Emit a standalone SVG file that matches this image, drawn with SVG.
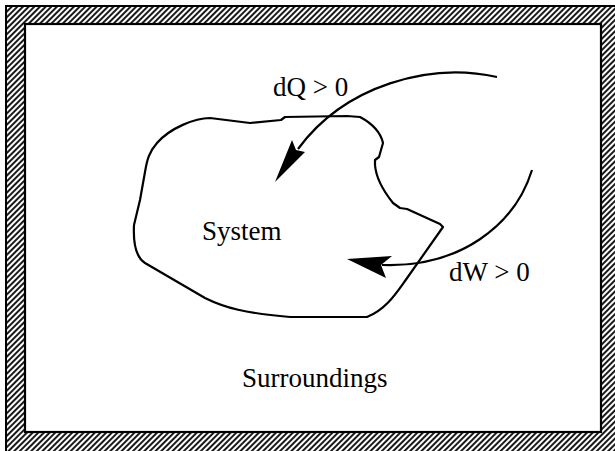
<svg xmlns="http://www.w3.org/2000/svg" width="615" height="451" viewBox="0 0 615 451">
  <defs>
    <pattern id="hatch" width="4" height="4" patternUnits="userSpaceOnUse" patternTransform="rotate(45)">
      <rect width="4" height="4" fill="#fff"/>
      <line x1="1" y1="0" x2="1" y2="4" stroke="#000" stroke-width="1.8"/>
    </pattern>
    <style>
      .lbl { font-family: "Liberation Serif", "Times New Roman", serif; font-size: 27px; fill: #000; }
      .ln { fill: none; stroke: #000; stroke-width: 2.2; stroke-linejoin: round; stroke-linecap: butt; }
      .ah { fill: #000; stroke: none; }
    </style>
  </defs>
  <rect width="615" height="451" fill="#fff"/>
  <g id="walls">
    <rect x="6" y="6" width="615" height="451" fill="url(#hatch)" stroke="#000" stroke-width="2"/>
    <rect x="25" y="24" width="576" height="408" fill="#fff" stroke="#000" stroke-width="2.2"/>
  </g>
  <g id="system">
    <path class="ln" d="M210,118 C195,118 170,128 157,143 C149,152 147,160 145,172 L140,200 L134,225 C133,245 137,258 145,263 L205,298 C225,308 245,313 290,317 L367,317 C385,310 395,295 405,281 L443,227 L440,224 L407,209 L400,208 L393,203 C385,193 376,178 375,165 L375,160 L379,157 L383,143 C381,134 375,125 360,117 L347,116 L285,117 L281,120 L250,123 Z"/>
    <text class="lbl" x="202" y="240">System</text>
  </g>
  <g id="surroundings">
    <text class="lbl" x="242" y="387">Surroundings</text>
  </g>
  <g id="connectors">
    <g id="dQ">
      <path class="ln" d="M497,77 C430,62 345,85 298,149"/>
      <polygon class="ah" points="275,182 292,140 296,150 305,152"/>
      <text class="lbl" x="273" y="96">dQ &gt; 0</text>
    </g>
    <g id="dW">
      <path class="ln" d="M532,170 C515,225 460,268 382,265"/>
      <polygon class="ah" points="347,259 392,256 381,265 386,278"/>
      <text class="lbl" x="449" y="281">dW &gt; 0</text>
    </g>
  </g>
</svg>
